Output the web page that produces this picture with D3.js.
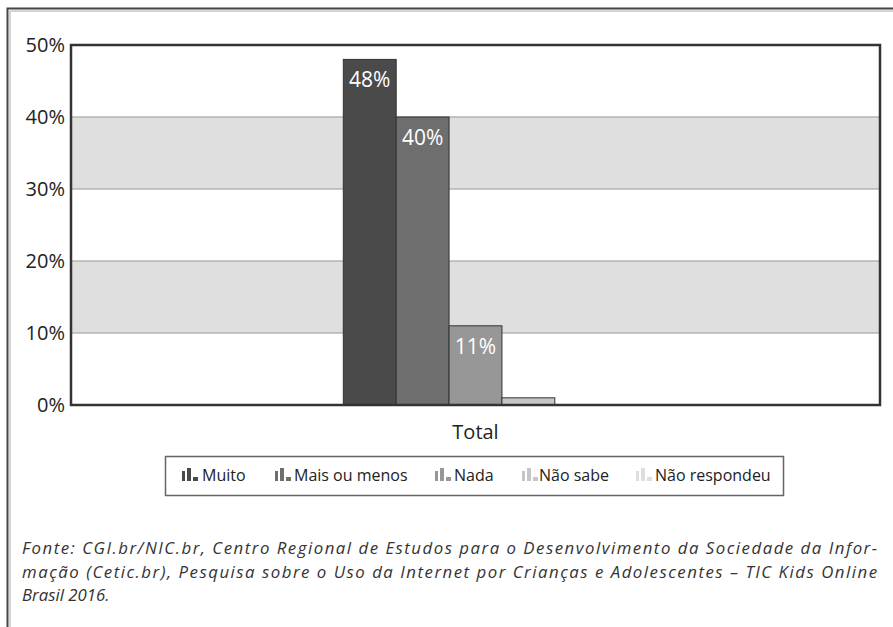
<!DOCTYPE html>
<html>
<head>
<meta charset="utf-8">
<script src="https://cdn.jsdelivr.net/npm/d3@7"></script>
<style>
body { margin: 0; background: #fff; }
text { font-family: "Open Sans", sans-serif; }
</style>
</head>
<body>
<script>
//data
var categories = ['Total'];
var series = ['Muito', 'Mais ou menos', 'Nada', 'Não sabe', 'Não respondeu'];
var values = [48, 40, 11, 1, 0];
var labels = ['48%', '40%', '11%', '', ''];
var colors = ['#4a4a4a', '#6e6e6e', '#979797', '#c6c6c6', '#dedede'];
var y_ticks = [0, 10, 20, 30, 40, 50];
var source_lines = [
    'Fonte: CGI.br/NIC.br, Centro Regional de Estudos para o Desenvolvimento da Sociedade da Infor-',
    'mação (Cetic.br), Pesquisa sobre o Uso da Internet por Crianças e Adolescentes – TIC Kids Online',
    'Brasil 2016.'
];

//layout
var svg_width = 893;
var svg_height = 627;
var plot = {left: 71, top: 45, right: 880, bottom: 405};
var graph_width = plot.right - plot.left;
var graph_height = plot.bottom - plot.top;

var svg = d3.select('body').append('svg')
    .attr('width', svg_width)
    .attr('height', svg_height);

//outer frame (top + left double line)
svg.append('path').attr('d', 'M7.5,627V8.5H893')
    .attr('fill', 'none').attr('stroke', '#444').attr('stroke-width', 2);
svg.append('path').attr('d', 'M10,627V11H893')
    .attr('fill', 'none').attr('stroke', '#aaa').attr('stroke-width', 1);

var graph = svg.append('g').attr('transform', 'translate(' + plot.left + ',' + plot.top + ')');

//scales
var scale_y = d3.scaleLinear().domain([0, 50]).range([graph_height, 0]);
var scale_x0 = d3.scaleBand().domain(categories).range([0, graph_width])
    .paddingInner(0).paddingOuter(1.03);
var scale_x1 = d3.scaleBand().domain(series).range([0, scale_x0.bandwidth()]);

//alternating bands
var band_pairs = [[10, 20], [30, 40]];
graph.append('g').selectAll('rect').data(band_pairs).enter().append('rect')
    .attr('x', 0)
    .attr('width', graph_width)
    .attr('y', function(d) { return scale_y(d[1]); })
    .attr('height', function(d) { return scale_y(d[0]) - scale_y(d[1]); })
    .attr('fill', '#dfdfdf');

//grid
graph.append('g').selectAll('line').data(y_ticks.slice(1, -1)).enter().append('line')
    .attr('x1', 0).attr('x2', graph_width)
    .attr('y1', function(d) { return scale_y(d); })
    .attr('y2', function(d) { return scale_y(d); })
    .attr('stroke', '#b5b5b5').attr('stroke-width', 1.5);

//bars
var bar_data = series.map(function(s, i) { return {s: s, v: values[i], c: colors[i], l: labels[i]}; });
var bars = graph.append('g').selectAll('g').data(categories).enter().append('g')
    .attr('transform', function(d) { return 'translate(' + scale_x0(d) + ',0)'; });
bars.selectAll('rect').data(bar_data.filter(function(d) { return d.v > 0; }))
    .enter().append('rect')
    .attr('x', function(d) { return scale_x1(d.s); })
    .attr('width', scale_x1.bandwidth())
    .attr('y', function(d) { return scale_y(d.v); })
    .attr('height', function(d) { return scale_y(0) - scale_y(d.v); })
    .attr('fill', function(d) { return d.c; })
    .attr('stroke', '#333').attr('stroke-width', 1);

bars.selectAll('text').data(bar_data.filter(function(d) { return d.l != ''; }))
    .enter().append('text')
    .attr('x', function(d) { return scale_x1(d.s) + scale_x1.bandwidth() / 2; })
    .attr('y', function(d) { return scale_y(d.v) + 28; })
    .attr('text-anchor', 'middle')
    .attr('fill', '#fff')
    .style('font-size', '21px')
    .text(function(d) { return d.l; });

//plot frame
graph.append('rect')
    .attr('x', 0).attr('y', 0)
    .attr('width', graph_width).attr('height', graph_height)
    .attr('fill', 'none').attr('stroke', '#333').attr('stroke-width', 2.5);

//y axis labels
var axis_y = d3.axisLeft(scale_y).tickValues(y_ticks)
    .tickFormat(function(d) { return d + '%'; }).tickSize(0).tickPadding(6);
graph.append('g').call(axis_y)
    .call(function(g) { g.select('.domain').remove(); })
    .selectAll('text')
    .attr('dy', '0.3em')
    .attr('fill', '#222')
    .style('font-size', '20px')
    .style('font-family', '"Open Sans", sans-serif');

//x axis label
var axis_x = d3.axisBottom(scale_x0).tickSize(0).tickPadding(20);
graph.append('g').attr('transform', 'translate(0,' + graph_height + ')').call(axis_x)
    .call(function(g) { g.select('.domain').remove(); })
    .selectAll('text')
    .attr('fill', '#222')
    .style('font-size', '20px')
    .style('font-family', '"Open Sans", sans-serif');

//legend
var legend_icon_x = [182, 275, 435, 522, 636];
var legend_text_x = [202, 294, 454, 539, 655];
var legend = svg.append('g');
legend.append('rect')
    .attr('x', 165.5).attr('y', 456.5).attr('width', 618).attr('height', 39)
    .attr('fill', '#fff').attr('stroke', '#666').attr('stroke-width', 1.5);
var icon_bars = [[0, 3, 10], [5, 4, 13], [11, 5, 4]];
series.forEach(function(s, i) {
    var icon = legend.append('g').attr('transform', 'translate(' + legend_icon_x[i] + ',481)');
    icon.selectAll('rect').data(icon_bars).enter().append('rect')
        .attr('x', function(b) { return b[0]; })
        .attr('y', function(b) { return -b[2]; })
        .attr('width', function(b) { return b[1]; })
        .attr('height', function(b) { return b[2]; })
        .attr('fill', colors[i]);
    legend.append('text')
        .attr('x', legend_text_x[i]).attr('y', 481)
        .attr('fill', '#222')
        .style('font-size', '16px')
        .text(s);
});

//source
var source = svg.append('g');
var source_text = source.selectAll('text').data(source_lines).enter().append('text')
    .attr('x', 22)
    .attr('y', function(d, i) { return 554 + i * 23.5; })
    .attr('fill', '#333')
    .style('font-size', '16.8px')
    .style('font-style', 'italic')
    .attr('textLength', function(d, i) { return i < 2 ? 855 : null; })
    .attr('lengthAdjust', 'spacing')
    .text(function(d) { return d; });
</script>
</body>
</html>
